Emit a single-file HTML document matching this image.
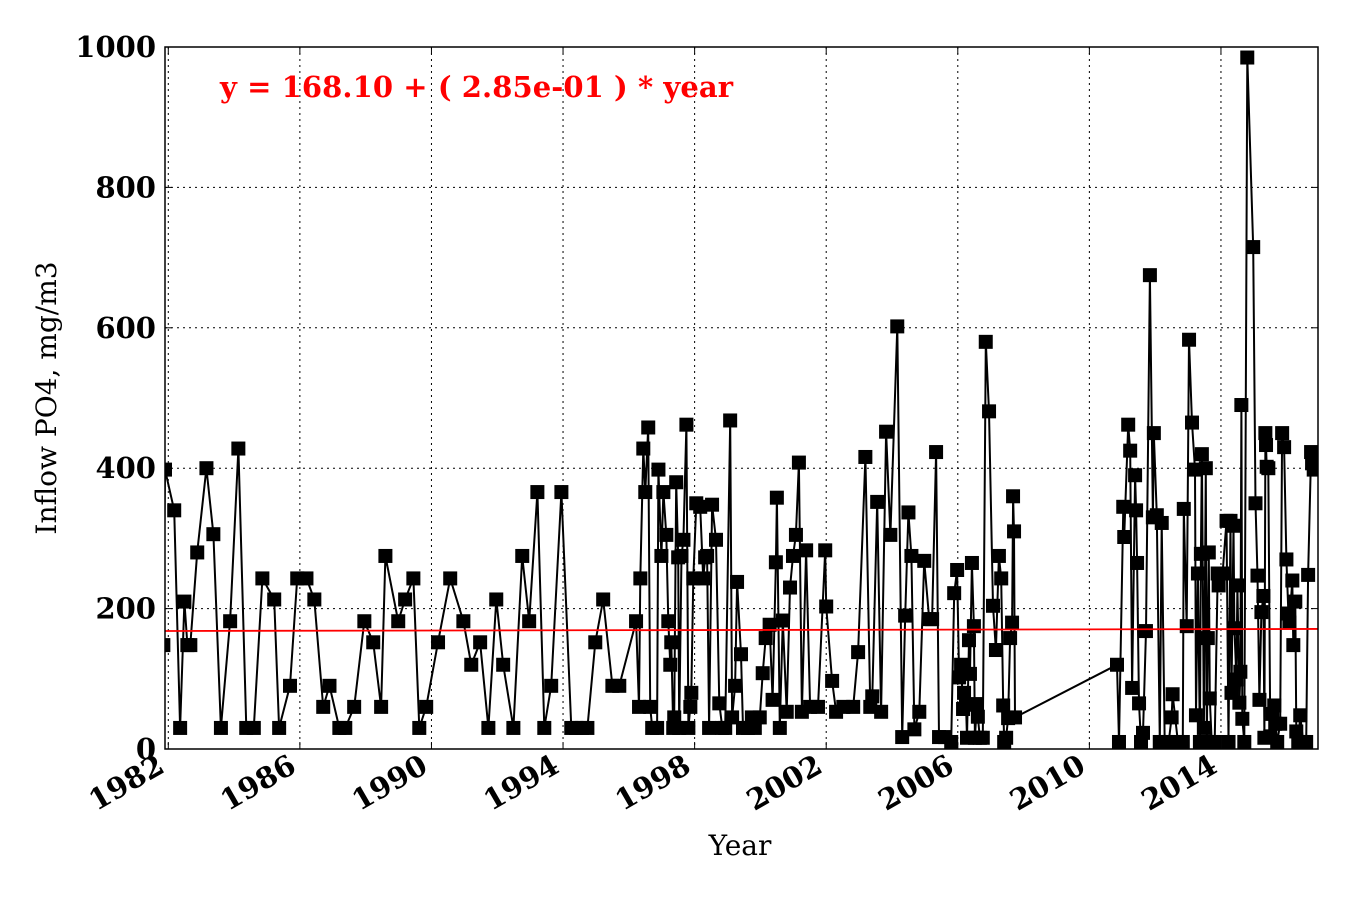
<!DOCTYPE html>
<html><head><meta charset="utf-8"><style>
body{margin:0;background:#fff;}
svg{display:block;font-family:"DejaVu Serif","Liberation Serif",serif;}
</style></head><body>
<svg id="chart" width="1350" height="900">
<defs><clipPath id="clip"><rect x="165" y="47" width="1153" height="702"/></clipPath></defs>
<g id="grid"></g>
<g id="marks" clip-path="url(#clip)"></g>
<rect x="165" y="47" width="1153" height="702" fill="none" stroke="#000" stroke-width="1.5"/>
<g id="axes"></g>
<text x="220" y="97" fill="#ff0000" font-size="29" font-weight="bold" textLength="513">y = 168.10 + ( 2.85e-01 ) * year</text>
<text x="740" y="855" text-anchor="middle" font-size="28">Year</text>
<text transform="translate(56,398) rotate(-90)" text-anchor="middle" font-size="28">Inflow PO4, mg/m3</text>
</svg>
<script>
const years=[1981.85,1981.9,1982.18,1982.36,1982.49,1982.58,1982.67,1982.88,1983.16,1983.37,1983.6,1983.88,1984.13,1984.37,1984.6,1984.86,1985.22,1985.37,1985.7,1985.92,1986.2,1986.44,1986.71,1986.9,1987.2,1987.38,1987.65,1987.96,1988.23,1988.47,1988.6,1988.99,1989.2,1989.45,1989.63,1989.84,1990.2,1990.57,1990.97,1991.21,1991.48,1991.73,1991.97,1992.18,1992.49,1992.76,1992.97,1993.22,1993.43,1993.64,1993.95,1994.25,1994.4,1994.58,1994.74,1994.98,1995.22,1995.5,1995.71,1996.22,1996.31,1996.35,1996.44,1996.5,1996.59,1996.65,1996.71,1996.86,1996.9,1996.99,1997.05,1997.14,1997.2,1997.26,1997.29,1997.35,1997.38,1997.44,1997.5,1997.53,1997.6,1997.66,1997.75,1997.81,1997.87,1997.9,1997.96,1998.05,1998.17,1998.26,1998.32,1998.38,1998.44,1998.53,1998.65,1998.75,1998.84,1998.93,1999.08,1999.14,1999.23,1999.29,1999.41,1999.47,1999.62,1999.74,1999.83,1999.98,2000.07,2000.16,2000.28,2000.37,2000.47,2000.5,2000.59,2000.68,2000.8,2000.9,2000.99,2001.08,2001.17,2001.26,2001.39,2001.51,2001.75,2001.97,2002.0,2002.18,2002.3,2002.52,2002.82,2002.97,2003.19,2003.34,2003.4,2003.55,2003.67,2003.82,2003.95,2004.16,2004.31,2004.4,2004.5,2004.59,2004.68,2004.83,2004.98,2005.13,2005.22,2005.34,2005.43,2005.61,2005.8,2005.89,2005.98,2006.04,2006.1,2006.16,2006.19,2006.25,2006.28,2006.34,2006.37,2006.43,2006.49,2006.52,2006.58,2006.61,2006.67,2006.76,2006.85,2006.95,2007.07,2007.16,2007.25,2007.32,2007.38,2007.41,2007.47,2007.53,2007.59,2007.65,2007.68,2007.71,2007.74,2010.84,2010.9,2011.03,2011.06,2011.18,2011.24,2011.3,2011.39,2011.42,2011.45,2011.51,2011.57,2011.63,2011.72,2011.84,2011.93,2011.96,2012.05,2012.14,2012.2,2012.29,2012.41,2012.5,2012.53,2012.69,2012.84,2012.87,2012.96,2013.03,2013.12,2013.21,2013.24,2013.3,2013.36,2013.39,2013.42,2013.48,2013.54,2013.57,2013.6,2013.63,2013.66,2013.72,2013.81,2013.9,2013.93,2014.05,2014.17,2014.23,2014.29,2014.32,2014.38,2014.41,2014.47,2014.5,2014.56,2014.59,2014.62,2014.65,2014.71,2014.8,2014.98,2015.05,2015.11,2015.17,2015.23,2015.29,2015.32,2015.35,2015.37,2015.39,2015.44,2015.5,2015.56,2015.62,2015.65,2015.71,2015.8,2015.86,2015.92,2015.99,2016.05,2016.08,2016.17,2016.2,2016.26,2016.29,2016.35,2016.41,2016.5,2016.59,2016.65,2016.74,2016.77,2016.82];
const values=[148,398,340,30,210,148,148,280,400,306,30,182,428,30,30,243,213,30,90,243,243,213,60,90,30,30,60,182,152,60,275,182,213,243,30,60,152,243,182,120,152,30,213,120,30,275,182,366,30,90,366,30,30,30,30,152,213,90,90,182,60,243,428,366,458,60,30,30,398,275,366,305,182,120,152,30,45,380,273,30,275,298,462,30,60,80,243,350,345,243,273,275,30,348,298,65,30,30,468,45,90,238,135,30,30,45,30,45,108,158,177,70,266,358,30,183,53,230,275,305,408,53,283,60,60,283,203,97,53,60,60,138,416,60,75,352,53,452,305,602,17,190,337,275,28,53,268,185,185,423,17,17,10,222,255,102,120,57,80,63,16,155,107,265,175,16,64,46,16,16,580,481,204,141,275,243,62,10,16,44,158,180,360,310,45,120,10,345,302,462,425,87,390,340,265,65,10,23,168,675,330,450,333,10,322,10,10,45,78,10,10,342,175,583,465,398,48,250,10,278,420,30,400,10,158,280,72,10,10,250,233,250,325,10,325,80,318,172,99,233,66,110,490,43,10,985,715,350,247,70,195,218,16,450,433,402,400,18,50,62,36,10,36,450,430,270,193,180,240,148,210,25,10,48,10,10,248,423,407,398];
const yTicks=[0,200,400,600,800,1000];
const xTicks=[1982,1986,1990,1994,1998,2002,2006,2010,2014];
const fitYears=[1981.9,2016.95];
const fitValues=[168.1,171.0];
const NS='http://www.w3.org/2000/svg';
const X0=165,X1=1318,Y0=749,Y1=47,YR0=1981.9,YR1=2016.95;
function sx(v){return X0+(v-YR0)/(YR1-YR0)*(X1-X0);}
function sy(v){return Y0-(v/1000)*(Y0-Y1);}
function mk(tag,attrs,parent){const e=document.createElementNS(NS,tag);for(const k in attrs)e.setAttribute(k,attrs[k]);parent.appendChild(e);return e;}
const grid=document.getElementById('grid'),marks=document.getElementById('marks'),axes=document.getElementById('axes');
yTicks.forEach(t=>{
  const y=sy(t);
  if(t>0&&t<1000){const l=mk('line',{x1:X0,x2:X1,y1:y,y2:y,stroke:'#000','stroke-width':1,'stroke-dasharray':'2,4'},grid);
  
  }
  mk('line',{x1:X0,x2:X0+7,y1:y,y2:y,stroke:'#000'},axes);
  mk('line',{x1:X1,x2:X1-7,y1:y,y2:y,stroke:'#000'},axes);
  const tx=mk('text',{x:X0-9,y:y+10,'text-anchor':'end','font-size':29,'font-weight':'bold'},axes);
  tx.textContent=t;
  
  
});
xTicks.forEach(t=>{
  const x=sx(t);
  const l=mk('line',{x1:x,x2:x,y1:Y1,y2:Y0,stroke:'#000','stroke-width':1,'stroke-dasharray':'2,4'},grid);
  
  
  mk('line',{x1:x,x2:x,y1:Y0,y2:Y0-7,stroke:'#000'},axes);
  mk('line',{x1:x,x2:x,y1:Y1,y2:Y1+7,stroke:'#000'},axes);
  const tx=mk('text',{x:x-2,y:Y0+22,'text-anchor':'end','font-size':29,'font-weight':'bold',transform:`rotate(-30 ${x-2} ${Y0+22})`},axes);
  tx.textContent=t;
  
  
});
const pts=years.map((yr,i)=>sx(yr).toFixed(1)+','+sy(values[i]).toFixed(1)).join(' ');
const pl=mk('polyline',{points:pts,fill:'none',stroke:'#000','stroke-width':2},marks);


years.forEach((yr,i)=>{
  const r=mk('rect',{x:sx(yr)-7,y:sy(values[i])-7,width:14,height:14,fill:'#000'},marks);
  
  
});
const fl=mk('line',{x1:sx(fitYears[0]),y1:sy(fitValues[0]),x2:sx(fitYears[1]),y2:sy(fitValues[1]),stroke:'#ff0000','stroke-width':1.8},marks);


</script>
</body></html>
